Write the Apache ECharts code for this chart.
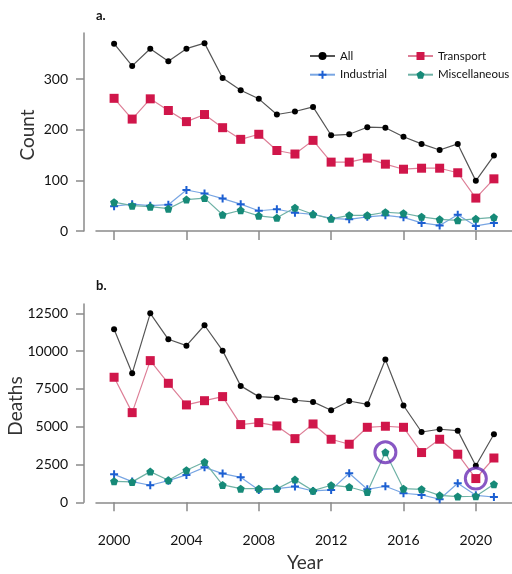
<!DOCTYPE html>
<html><head><meta charset="utf-8">
<script src="https://cdn.jsdelivr.net/npm/echarts@6/dist/echarts.min.js"></script>
<style>html,body{margin:0;padding:0;background:#fff}#c{width:512px;height:574px}</style>
</head><body><div id="c"></div>
<script>
const years = [2000,2001,2002,2003,2004,2005,2006,2007,2008,2009,2010,2011,2012,2013,2014,2015,2016,2017,2018,2019,2020,2021];
const yearTicks = [2000,2004,2008,2012,2016,2020];
const countTicks = [0,100,200,300];
const deathTicks = [0,2500,5000,7500,10000,12500];

const countAll = [370,326,360,335,360,371,302,278,261,230,236,245,189,191,205,204,186,172,160,172,99,149];
const countTransport = [262,221,261,238,216,230,204,181,191,159,152,179,136,136,144,132,122,124,124,115,65,103];
const countIndustrial = [49,53,50,52,81,74,64,53,40,43,36,33,25,23,28,31,27,16,11,32,10,16];
const countMisc = [57,50,48,44,62,65,32,41,30,26,46,33,24,31,31,37,35,28,23,21,24,27];

const deathAll = [11440,8530,12500,10780,10360,11710,10030,7700,6990,6920,6750,6640,6090,6700,6480,9440,6400,4650,4830,4740,2420,4500];
const deathTransport = [8270,5930,9370,7870,6440,6720,6990,5140,5270,5050,4210,5180,4170,3840,4960,5030,4960,3290,4170,3180,1570,2930];
const deathIndustrial = [1850,1370,1130,1430,1810,2310,1900,1650,820,900,1040,750,820,1920,860,1060,600,490,200,1260,460,350];
const deathMisc = [1390,1350,2030,1460,2120,2670,1150,900,900,900,1500,770,1130,1010,680,3310,900,860,460,380,400,1190];

const highlightPoints = [[2015, deathMisc[15]], [2020, deathTransport[20]]];

const FONT = 'Lato';
const plusPath = 'path://M3,0H5V3H8V5H5V8H3V5H0V3H3Z';
const pentPath = 'path://M50,0L97.6,34.5L79.4,90.5H20.6L2.4,34.5Z';

const styles = {
  All: {color:'#000000', line:'#555555', symbol:'circle', size:6},
  Transport: {color:'#d0164a', line:'#dd7f97', symbol:'rect', size:9},
  Industrial: {color:'#1c5fd2', line:'#79a6e3', symbol:plusPath, size:8},
  Miscellaneous: {color:'#168a78', line:'#6fb2a6', symbol:pentPath, size:8}
};

function mk(name, vals, idx){
  const s = styles[name];
  return {
    name, type:'line', xAxisIndex:idx, yAxisIndex:idx,
    data: years.map((y,i)=>[y, vals[i]]),
    symbol: s.symbol, symbolSize: s.size,
    itemStyle:{color:s.color},
    lineStyle:{color:s.line, width:1.2},
    showSymbol:true, animation:false
  };
}

const plain = v => String(v);

function xAxisDef(idx, offset, labels){
  return {
    type:'value', gridIndex:idx, min:1999, max:2022, offset:offset,
    axisLine:{show:true, lineStyle:{color:'#8a8a8a', width:1.5}},
    axisTick:{show:true, length:9, customValues:yearTicks, lineStyle:{color:'#8a8a8a', width:1.5}},
    axisLabel:{show:labels, customValues:yearTicks, formatter:plain, margin:18, fontFamily:FONT, fontSize:14, color:'#111'},
    splitLine:{show:false}
  };
}
function yAxisDef(idx, max, ticks){
  return {
    type:'value', gridIndex:idx, min:0, max:max, offset:12,
    axisLine:{show:true, lineStyle:{color:'#8a8a8a', width:1.5}},
    axisTick:{show:true, length:8, customValues:ticks, lineStyle:{color:'#8a8a8a', width:1.5}},
    axisLabel:{show:true, customValues:ticks, formatter:plain, margin:16, fontFamily:FONT, fontSize:14, color:'#111'},
    splitLine:{show:false}
  };
}

const chart = echarts.init(document.getElementById('c'), null, {renderer:'canvas'});
const legendCommon = {
  orient:'vertical', itemWidth:25, itemHeight:10, itemGap:6.7,
  textStyle:{fontFamily:FONT, fontSize:11.5, color:'#111'}, selectedMode:false
};
chart.setOption({
  animation:false,
  backgroundColor:'#fff',
  grid:[
    {left:96, top:33, width:418.6, height:198},
    {left:96, top:304, width:418.6, height:198.3}
  ],
  xAxis:[xAxisDef(0,14,false), xAxisDef(1,13,true)],
  yAxis:[yAxisDef(0,391,countTicks), yAxisDef(1,13115,deathTicks)],
  legend:[
    Object.assign({data:['All','Industrial'], left:304, top:45}, legendCommon),
    Object.assign({data:['Transport','Miscellaneous'], left:402, top:45}, legendCommon)
  ],
  series:[
    mk('All', countAll, 0),
    mk('Industrial', countIndustrial, 0),
    mk('Miscellaneous', countMisc, 0),
    mk('Transport', countTransport, 0),
    mk('All', deathAll, 1),
    mk('Industrial', deathIndustrial, 1),
    mk('Miscellaneous', deathMisc, 1),
    mk('Transport', deathTransport, 1),
    {type:'scatter', xAxisIndex:1, yAxisIndex:1, data:highlightPoints, symbol:'circle', symbolSize:21,
     itemStyle:{color:'rgba(0,0,0,0)', borderColor:'#6a2db5', borderWidth:3}, z:5, silent:true}
  ],
  graphic:[
    {type:'text', left:96, top:9, style:{text:'a.', fontFamily:FONT, fontSize:13, fontWeight:'bold', fill:'#111'}},
    {type:'text', left:96, top:279, style:{text:'b.', fontFamily:FONT, fontSize:13, fontWeight:'bold', fill:'#111'}},
    {type:'text', x:28, y:135, rotation:Math.PI/2, style:{text:'Count', fontFamily:FONT, fontSize:19, fill:'#333', align:'center', verticalAlign:'middle'}},
    {type:'text', x:16, y:406, rotation:Math.PI/2, style:{text:'Deaths', fontFamily:FONT, fontSize:19, fill:'#333', align:'center', verticalAlign:'middle'}},
    {type:'text', x:305, y:563, style:{text:'Year', fontFamily:FONT, fontSize:19, fill:'#333', align:'center', verticalAlign:'middle'}}
  ]
});
</script></body></html>
